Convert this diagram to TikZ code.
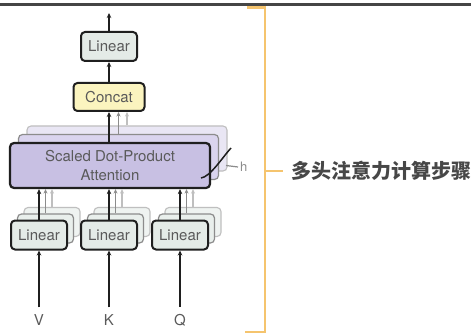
\documentclass[tikz,border=0pt]{standalone}
\usepackage{fontspec}
\setmainfont{TeX Gyre Heros}
\newfontfamily\cjk{Noto Sans CJK SC}
\usetikzlibrary{arrows.meta}

\definecolor{barcol}{HTML}{454545}
\definecolor{bracecol}{HTML}{F5C46E}
\definecolor{labelcol}{HTML}{5A5A5A}
\definecolor{linfill}{HTML}{E4EBE7}
\definecolor{catfill}{HTML}{FBF4BF}
\definecolor{attfill}{HTML}{C8C0E3}
\definecolor{attmid}{HTML}{DAD4EE}
\definecolor{attback}{HTML}{E9E6F4}

\tikzset{
  lbl/.style={font=\fontsize{15}{15}\selectfont, text=labelcol, inner sep=0pt},
  frontbox/.style={draw=black!88, line width=2pt, rounded corners=4pt, lbl},
  midbox/.style={draw=black!45, line width=1.2pt, rounded corners=4pt},
  backbox/.style={draw=black!25, line width=1.1pt, rounded corners=4pt},
  linsize/.style={minimum width=56pt, minimum height=29pt},
  attsize/.style={minimum width=200pt, minimum height=45pt},
  arr/.style={line width=1.6pt, draw=black!88, -{Stealth[length=5pt,width=4.5pt]}},
  arrmid/.style={line width=1.2pt, draw=black!45, -{Stealth[length=4.5pt,width=4pt]}},
  arrback/.style={line width=1.1pt, draw=black!25, -{Stealth[length=4.5pt,width=4pt]}},
  bracket/.style={draw=bracecol, line width=2.4pt}
}

\begin{document}
\begin{tikzpicture}[x=1pt, y=-1pt]
\useasboundingbox (0,0) rectangle (471,334);
\fill[white] (0,0) rectangle (471,334);
% top rule
\fill[barcol] (0,3) rectangle (471,6);

% output projection and concatenation
\node[frontbox, linsize, fill=linfill] (linout) at (109,46.5) {Linear};
\node[frontbox, minimum width=71pt, minimum height=28pt, fill=catfill] (concat) at (109,97) {Concat};
\coordinate (out) at (109,13);

% stacked attention heads
\node[backbox, attsize, fill=attback] (attB) at (127,148.5) {};
\node[midbox, attsize, fill=attmid] (attM) at (118.5,157) {};
\node[frontbox, line width=2.2pt, attsize, fill=attfill, align=center] (attF) at (110,165.5)
  {Scaled Dot-Product\\[4pt]Attention};

% stacked input projections
\foreach \nm/\cx in {V/39, K/109, Q/180}{
  \node[backbox, linsize, fill=linfill!60] (lin\nm B) at (\cx+13,222) {};
  \node[midbox, linsize, fill=linfill!80] (lin\nm M) at (\cx+6.5,228.5) {};
  \node[frontbox, linsize, fill=linfill] (lin\nm F) at (\cx,235) {Linear};
  \node[lbl] (in\nm) at (\cx,320) {\nm};
}

% connectors
\draw[arr] (linout.north) -- (out);
\draw[arr] (concat.north -| linout.south) -- (linout.south);
\draw[arrback] (attB.north) -- (attB.north |- concat.south);
\draw[arrmid] (attM.north) -- (attM.north |- concat.south);
\draw[arr] (attF.north -| concat.south) -- (concat.south);
\foreach \nm in {V,K,Q}{
  \draw[arrback] (lin\nm B.north) -- (lin\nm B.north |- attF.south);
  \draw[arrmid] (lin\nm M.north) -- (lin\nm M.north |- attF.south);
  \draw[arr] (lin\nm F.north) -- (lin\nm F.north |- attF.south);
  \draw[arr] ([yshift=7pt]in\nm.north) -- (lin\nm F.south);
}

% number of heads marker
\coordinate (hs) at (201,178);
\coordinate (he) at (231,148);
\draw[line width=1.5pt, black!88] (hs) .. controls (210,177) and (222,158) .. (he);
\coordinate (hd) at (226,165.5);
\node[font=\fontsize{13}{13}\selectfont, text=black!45, anchor=west, inner sep=0pt] (hlab) at (240,167) {h};
\draw[line width=1.2pt, black!45] (hd) -- ([xshift=-2pt]hlab.west);

% bracket with caption
\coordinate (bt0) at (247,7.5);
\coordinate (bt1) at (265,7.5);
\coordinate (bb1) at (265,332);
\coordinate (bb0) at (245,332);
\draw[bracket] (bt0) -- (bt1) -- (bb1) -- (bb0);
\coordinate (bm) at (265,171);
\node[font=\cjk\bfseries\fontsize{20}{20}\selectfont, text=black!72, anchor=west, inner sep=0pt] (cap) at (291,171) {多头注意力计算步骤};
\draw[bracket] (bm) -- (283,171);
\end{tikzpicture}
\end{document}
